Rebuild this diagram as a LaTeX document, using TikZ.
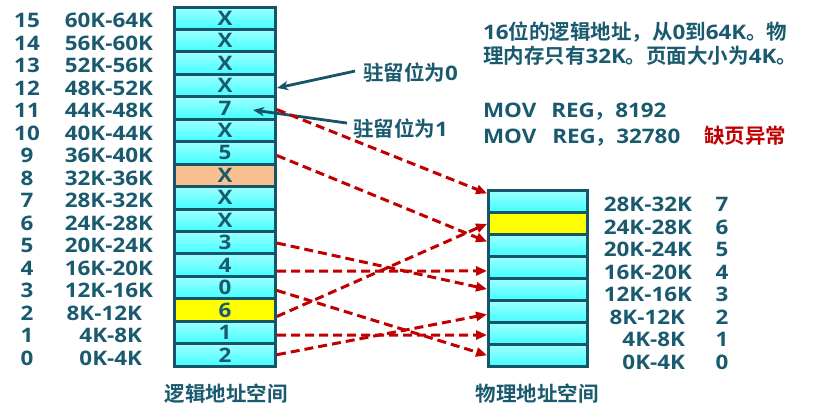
\documentclass[tikz,border=0pt]{standalone}
\usepackage{fontspec}
\setmainfont{Open Sans}[FakeStretch=1.12]
\newfontfamily\cjk{Noto Sans CJK SC}[BoldFont={Noto Sans CJK SC Bold}]
\usetikzlibrary{arrows.meta,calc}
\definecolor{txtc}{HTML}{1A5A6E}
\definecolor{bordc}{HTML}{165468}
\definecolor{redc}{HTML}{C00000}
\definecolor{cyanT}{HTML}{A0FFFF}
\definecolor{cyanB}{HTML}{40FFFF}
\definecolor{peachc}{HTML}{F9C090}
\definecolor{yelc}{HTML}{FFFF00}
\newcommand\zh[1]{{\cjk\fontsize{20.5}{24}\selectfont #1}}
\tikzset{
  cell/.style={draw=bordc, line width=3pt, inner sep=0pt, outer sep=0pt, text=txtc},
  lcell/.style={cell, minimum width=101pt, minimum height=22.45pt},
  pcell/.style={cell, minimum width=99pt, minimum height=22.1pt},
  cyanc/.style={top color=cyanT, bottom color=cyanB},
  yel/.style={fill=yelc},
  peach/.style={fill=peachc},
  lbl/.style={inner sep=0pt, outer sep=0pt, text=txtc},
  redarr/.style={draw=redc, line width=3pt, dash pattern=on 9pt off 5pt,
    -{Triangle[length=11pt,width=9pt]}, shorten <=1.5pt, shorten >=1.5pt},
  callarr/.style={draw=bordc, line width=2.8pt, -{Stealth[length=11pt,width=9pt,inset=3pt]}}
}
\begin{document}
\begin{tikzpicture}[x=1pt, y=-1pt, font=\bfseries\fontsize{20}{24}\selectfont, text=txtc]
\path[use as bounding box] (0,0) rectangle (820,418);
% logical address space
\foreach \i/\t/\s in {0/2/cyanc, 1/1/cyanc, 2/6/yel, 3/0/cyanc, 4/4/cyanc, 5/3/cyanc,
  6/X/cyanc, 7/X/cyanc, 8/X/peach, 9/5/cyanc, 10/X/cyanc, 11/7/cyanc, 12/X/cyanc,
  13/X/cyanc, 14/X/cyanc, 15/X/cyanc}
  \node[lcell, \s] (l\i) at (225, {366.2-(\i+0.5)*22.45}) {\t};
% physical address space
\foreach \j/\s in {0/cyanc, 1/cyanc, 2/cyanc, 3/cyanc, 4/cyanc, 5/cyanc, 6/yel, 7/cyanc}
  \node[pcell, \s] (p\j) at (538, {366.8-(\j+0.5)*22.1}) {};
% logical labels
\foreach \i in {0,...,15}
  \node[lbl, anchor=base] (n\i) at (27, {365-\i*22.47}) {\i};
\foreach \i/\t/\x in {0/0K-4K/142, 1/4K-8K/142, 2/8K-12K/142, 3/12K-16K/153,
  4/16K-20K/153, 5/20K-24K/153, 6/24K-28K/153, 7/28K-32K/153, 8/32K-36K/153,
  9/36K-40K/153, 10/40K-44K/153, 11/44K-48K/153, 12/48K-52K/153, 13/52K-56K/153,
  14/56K-60K/153, 15/60K-64K/153}
  \node[lbl, anchor=base east] (a\i) at (\x, {365-\i*22.47}) {\t};
% physical labels
\foreach \j/\t/\x in {0/0K-4K/685, 1/4K-8K/685, 2/8K-12K/685, 3/12K-16K/692,
  4/16K-20K/692, 5/20K-24K/692, 6/24K-28K/692, 7/28K-32K/692}
  {\node[lbl, anchor=base east] (q\j) at (\x, {369-\j*22.43}) {\t};
   \node[lbl, anchor=base] (r\j) at (722, {369-\j*22.43}) {\j};}
% titles
\node[lbl, anchor=base] (tl) at (226,401) {\zh{逻辑地址空间}};
\node[lbl, anchor=base] (tp) at (537,401) {\zh{物理地址空间}};
% text block
\node[lbl, anchor=base west] (t1) at (483,39) {16\zh{位的逻辑地址，从}0\zh{到}64K\zh{。物}};
\node[lbl, anchor=base west] (t2) at (483,63) {\zh{理内存只有}32K\zh{。页面大小为}4K\zh{。}};
\node[lbl, anchor=base west] (m1) at (483,117) {MOV\hspace{15pt}REG\zh{，}8192};
\node[lbl, anchor=base west] (m2) at (483,143) {MOV\hspace{16pt}REG\zh{，}32780};
\node[lbl, anchor=base west, text=redc] (e1) at (704,143) {\zh{缺页异常}};
% callouts
\node[lbl, anchor=base west] (c0) at (363,80) {\zh{驻留位为}0};
\node[lbl, anchor=base west] (c1) at (353,136) {\zh{驻留位为}1};
\draw[callarr] ($(c0.west)+(-8,-1)$) -- ($(l12.east)+(1.5,2.4)$);
\draw[callarr] ($(c1.west)+(-6,-5)$) -- ($(l11.center)+(28,2)$);
% mapping arrows
\draw[redarr] ($(l11.east)+(0,1)$) -- ($(p7.west)+(0,-7)$);
\draw[redarr] ($(l9.east)+(0,2)$) -- ($(p5.west)+(0,-3)$);
\draw[redarr] (l5.east) -- (p3.west);
\draw[redarr] ($(l4.east)+(0,6)$) -- ($(p4.west)+(0,3.6)$);
\draw[redarr] ($(l3.east)+(0,2.4)$) -- (p0.west);
\draw[redarr] ($(l2.east)+(0,7)$) -- (p6.west);
\draw[redarr] ($(l1.east)+(0,2.5)$) -- ($(p1.west)+(0,1.4)$);
\draw[redarr] (l0.east) -- ($(p2.west)+(0,2.5)$);
\end{tikzpicture}
\end{document}
